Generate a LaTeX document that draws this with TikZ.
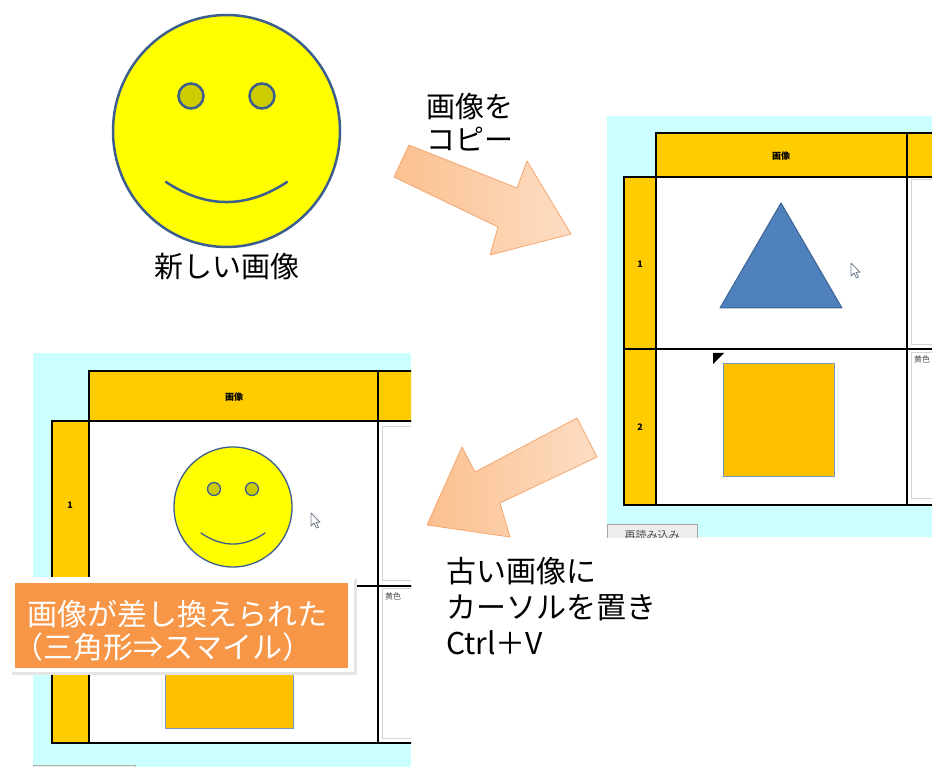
\documentclass[tikz,border=0pt]{standalone}
\usepackage{fontspec}
\setmainfont{Noto Sans CJK JP}
\definecolor{cyanbg}{HTML}{CCFFFF}
\definecolor{hdr}{HTML}{FFCC00}
\definecolor{facefill}{HTML}{FFFF00}
\definecolor{faceedge}{HTML}{3C5E8E}
\definecolor{eyefill}{HTML}{CCCC00}
\definecolor{triblue}{HTML}{4F81BD}
\definecolor{triedge}{HTML}{3A6494}
\definecolor{sqfill}{HTML}{FFC000}
\definecolor{sqedge}{HTML}{7A96C0}
\definecolor{arrline}{HTML}{F5A66E}
\definecolor{arrdark}{HTML}{FBC08F}
\definecolor{arrlight}{HTML}{FDDDC4}
\definecolor{tagorange}{HTML}{F79646}
\definecolor{areaedge}{HTML}{D4D4D4}
\definecolor{pointeredge}{HTML}{6A7A88}
\begin{document}
\begin{tikzpicture}[x=1pt,y=-1pt,
  caption/.style={font=\fontsize{29}{33}\selectfont, inner sep=0pt},
  grid/.style={draw=black, line width=1.2pt},
  hdrcell/.style={fill=hdr},
  bodycell/.style={fill=white},
  textarea/.style={draw=areaedge, fill=white, line width=1pt},
  face/.style={fill=facefill, draw=faceedge},
  eye/.style={fill=eyefill, draw=faceedge},
  pointer/.style={fill=white, draw=pointeredge, line width=0.8pt, line join=round},
  blockarrow/.style={left color=arrdark, right color=arrlight, draw=arrline, line width=0.8pt, line join=round},
  tiny/.style={font=\fontsize{9}{10}\selectfont\bfseries, inner sep=0pt},
  small/.style={font=\fontsize{8}{9}\selectfont, text=black!70, inner sep=0pt}]
\useasboundingbox (0,0) rectangle (932,767);

% ---- new image: big smiley ----
\draw[face, line width=2.5pt] (226.5,131) ellipse [x radius=113.5, y radius=116];
\draw[eye, line width=2.5pt] (191,96) circle [radius=12.5];
\draw[eye, line width=2.5pt] (262,96) circle [radius=12.5];
\draw[faceedge, line width=2.5pt, line cap=round] (166,182) .. controls (206.3,208.7) and (246.7,208.7) .. (287,182);
\node[caption] (newimg) at (227,267) {新しい画像};

% ---- copy arrow ----
\draw[blockarrow] (409,145) -- (517,188) -- (527,161) -- (571,234) -- (490,255) -- (498,227) -- (394,177) -- cycle;
\node[caption, anchor=west, align=left] (copytxt) at (426,122) {画像を\\コピー};

% ---- spreadsheet before paste ----
\begin{scope}
\clip (607,116) rectangle (932,537);
\fill[cyanbg] (607,116) rectangle (932,537);
\filldraw[grid, hdrcell] (656,133) rectangle (907,177);
\filldraw[grid, hdrcell] (907,133) rectangle (950,177);
\filldraw[grid, hdrcell] (624,177) rectangle (656,349);
\filldraw[grid, hdrcell] (624,349) rectangle (656,505);
\filldraw[grid, bodycell] (656,177) rectangle (907,349);
\filldraw[grid, bodycell] (656,349) rectangle (907,505);
\filldraw[grid, bodycell] (907,177) rectangle (950,349);
\filldraw[grid, bodycell] (907,349) rectangle (950,505);
\draw[textarea] (911,180) rectangle (950,345);
\draw[textarea] (911,353) rectangle (950,498);
\node[small, anchor=north west] (yellowR) at (914,356) {黄色};
\node[tiny] (hdrR) at (781,156) {画像};
\node[tiny] (row1R) at (640,264) {1};
\node[tiny] (row2R) at (640,427) {2};
\draw[fill=triblue, draw=triedge, line width=1pt, line join=round] (781,203) -- (842,308) -- (720,308) -- cycle;
\fill[black] (713,353) -- (724,353) -- (713,364) -- cycle;
\draw[fill=sqfill, draw=sqedge, line width=1pt] (723,364) rectangle (834,476);
\draw[pointer, shift={(851,263)}] (0,0) -- (0,13) -- (3,10) -- (5.5,15) -- (7.5,14) -- (5,9.3) -- (9,9.3) -- cycle;
\filldraw[fill=black!7, draw=black!35] (607,524) rectangle (697,545);
\node[font=\fontsize{11}{12}\selectfont, text=black!70, inner sep=0pt] (reload) at (652,535) {再読み込み};
\end{scope}

% ---- paste arrow ----
\draw[blockarrow] (577,418) -- (597,457) -- (500,503) -- (510,537) -- (427,525) -- (462,447) -- (475,472) -- cycle;
\node[font=\fontsize{30}{36}\selectfont, inner sep=0pt, anchor=west, align=left] (pastetxt) at (446,606) {古い画像に\\カーソルを置き\\Ctrl＋V};

% ---- spreadsheet after paste ----
\begin{scope}
\clip (33,353) rectangle (411,767);
\fill[cyanbg] (33,353) rectangle (411,767);
\filldraw[grid, hdrcell] (89,371) rectangle (378,421);
\filldraw[grid, hdrcell] (378,371) rectangle (420,421);
\filldraw[grid, hdrcell] (52,421) rectangle (89,586);
\filldraw[grid, hdrcell] (52,586) rectangle (89,743);
\filldraw[grid, bodycell] (89,421) rectangle (378,586);
\filldraw[grid, bodycell] (89,586) rectangle (378,743);
\filldraw[grid, bodycell] (378,421) rectangle (420,586);
\filldraw[grid, bodycell] (378,586) rectangle (420,743);
\draw[textarea] (382,426) rectangle (420,580);
\draw[textarea] (382,588) rectangle (420,738);
\node[small, anchor=north west] (yellowL) at (385,593) {黄色};
\node[tiny] (hdrL) at (234,397) {画像};
\node[tiny] (row1L) at (70,505) {1};
\draw[face, line width=1.3pt] (233,507) ellipse [x radius=59, y radius=60];
\draw[eye, line width=1.3pt] (214,489) circle [radius=6.5];
\draw[eye, line width=1.3pt] (252,489) circle [radius=6.5];
\draw[faceedge, line width=1.3pt, line cap=round] (201,533) .. controls (222.3,547.7) and (243.7,547.7) .. (265,533);
\draw[pointer, shift={(311,513)}] (0,0) -- (0,13) -- (3,10) -- (5.5,15) -- (7.5,14) -- (5,9.3) -- (9,9.3) -- cycle;
\draw[fill=sqfill, draw=sqedge, line width=1pt] (165,600) rectangle (293,728);
\filldraw[fill=black!8, draw=black!30] (33,765) rectangle (135,780);
\end{scope}

% ---- result tag ----
\fill[black!10] (12,579) rectangle (357,675);
\fill[white] (10,577) rectangle (354,672);
\fill[tagorange] (15,583) rectangle (348,668);
\node[font=\fontsize{30}{33}\selectfont, text=white, inner sep=0pt, anchor=west, align=left] (resulttxt) at (27,631) {画像が差し換えられた\\\hspace*{-14pt}（三角形⇒スマイル）};
\end{tikzpicture}
\end{document}
